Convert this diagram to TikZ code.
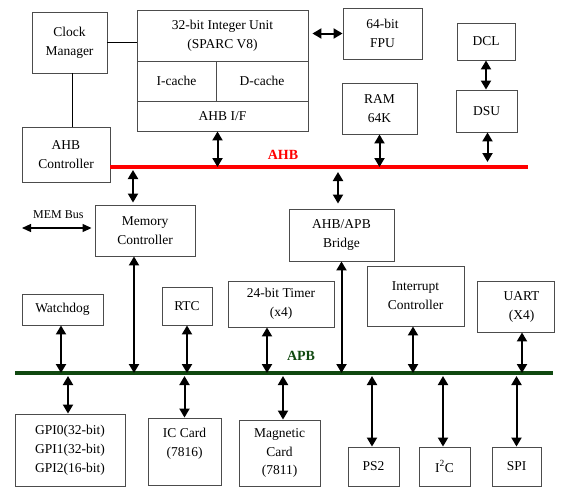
\documentclass[tikz,border=0pt]{standalone}
\usepackage{fontspec}
\setmainfont{Liberation Serif}
\usetikzlibrary{arrows.meta,calc}
\definecolor{apbgreen}{RGB}{16,72,16}
\newcommand{\blkfont}{\fontsize{13.5}{19}\selectfont}
\begin{document}
\begin{tikzpicture}[x=1pt,y=-1pt,
  blk/.style={draw=black!70,line width=0.9pt,inner sep=0pt,align=center,font=\blkfont},
  dbl/.style={{Triangle[width=10pt,length=9pt]}-{Triangle[width=10pt,length=9pt]},line width=2pt},
  bus/.style={line width=3.5pt}]
\useasboundingbox (0,0) rectangle (570,499);
% Nodo Clock Manager e processore
\draw(69.5,42.5)node[blk,minimum width=75pt,minimum height=61pt](clk){Clock\\Manager}
     (222.5,35.5)node[blk,minimum width=171pt,minimum height=51pt](iu){32-bit Integer Unit\\(SPARC V8)}
     (176.5,81)node[blk,minimum width=79pt,minimum height=40pt](icache){I-cache}
     (262,81)node[blk,minimum width=92pt,minimum height=40pt](dcache){D-cache}
     (222.5,116)node[blk,minimum width=171pt,minimum height=30pt](ahbif){AHB I/F}
     % Nodo FPU
     (382.5,33.5)node[blk,minimum width=79pt,minimum height=51pt](fpu){64-bit\\FPU}
     % Nodi debug
     (486,41.5)node[blk,minimum width=58pt,minimum height=37pt](dcl){DCL}
     (486.5,111)node[blk,minimum width=61pt,minimum height=42pt](dsu){DSU}
     % Nodo RAM
     (379.5,108.5)node[blk,minimum width=75pt,minimum height=51pt](ram){RAM\\64K}
     % Nodo AHB Controller
     (66,154.5)node[blk,minimum width=88pt,minimum height=55pt](ahbctl){AHB\\Controller};

% Nodi tra AHB e APB
\draw(145,230.5)node[blk,minimum width=100pt,minimum height=51pt](mem){Memory\\Controller}
     (341.5,235)node[blk,minimum width=105pt,minimum height=52pt](bridge){AHB/APB\hspace{10pt}\\Bridge\hspace{8pt}}
     (62.5,309.5)node[blk,minimum width=81pt,minimum height=31pt](wdog){Watchdog}
     (187,306)node[blk,minimum width=50pt,minimum height=38pt](rtc){RTC}
     (281,304)node[blk,minimum width=106pt,minimum height=46pt](timer){24-bit Timer\\(x4)}
     (415.5,296)node[blk,minimum width=97pt,minimum height=60pt](irq){Interrupt\\Controller}
     (515.5,306.5)node[blk,minimum width=77pt,minimum height=51pt](uart){\hspace{12pt}UART\\\hspace{12pt}(X4)};

% Nodi sotto APB
\draw(70,450)node[blk,minimum width=110pt,minimum height=72pt](gpi){GPI0(32-bit)\\GPI1(32-bit)\\GPI2(16-bit)}
     (184.5,451.5)node[blk,minimum width=73pt,minimum height=67pt](iccard){IC Card\\(7816)\\\mbox{}}
     (279.5,453)node[blk,minimum width=81pt,minimum height=66pt,font=\fontsize{13.5}{18.5}\selectfont](magcard){Magnetic\\Card\\(7811)}
     (373.5,466.5)node[blk,minimum width=51pt,minimum height=39pt](ps2){PS2}
     (444.5,466.5)node[blk,minimum width=51pt,minimum height=39pt](iic){I\textsuperscript{2}C}
     (516.5,466.5)node[blk,minimum width=49pt,minimum height=39pt](spi){SPI};

% Bus AHB e APB
\coordinate(ahbw) at (110,167);
\coordinate(ahbe) at (528,167);
\coordinate(apbw) at (15,373);
\coordinate(apbe) at (553,373);
\coordinate(membus) at (22,228);
\draw[bus,red](ahbw)--(ahbe);
\draw[bus,apbgreen](apbw)--(apbe);
\node[text=red,font=\fontsize{14}{16}\selectfont\bfseries](ahblabel) at (283,155){AHB};
\node[text=apbgreen,font=\fontsize{14}{16}\selectfont\bfseries](apblabel) at (301,356){APB};

% Linee del Clock Manager
\draw[line width=0.9pt](clk.east)--(clk.east -| iu.west);
\draw[line width=0.9pt]([xshift=3pt]clk.south)--([xshift=3pt]clk.south |- ahbctl.north);

% Frecce sopra AHB
\draw[dbl,shorten <=4pt](iu.east |- fpu)--(fpu.west);
\draw[dbl]([xshift=-5pt]ahbif.south)--([xshift=-5pt]ahbif.south |- ahbw);
\draw[dbl](ram.south)--(ram.south |- ahbw);
\draw[dbl](dcl.south)--(dcl.south |- dsu.north);
\draw[dbl,shorten >=5pt]([xshift=1pt]dsu.south)--([xshift=1pt]dsu.south |- ahbw);

% Frecce tra AHB e APB
\draw[dbl,shorten <=3pt,shorten >=2pt]([xshift=-12pt]mem.north |- ahbw)--([xshift=-12pt]mem.north);
\draw[dbl,shorten <=5pt,shorten >=5pt]([xshift=-3.5pt]bridge.north |- ahbw)--([xshift=-3.5pt]bridge.north);
\draw[{Triangle[width=8pt,length=9pt]}-{Triangle[width=8pt,length=9pt]},line width=1.2pt,shorten >=3pt](membus)--(membus -| mem.west)
     node[midway,above=5pt,font=\fontsize{12}{14}\selectfont](membuslabel){MEM Bus};
\draw[dbl]([xshift=-11pt]mem.south)--([xshift=-11pt]mem.south |- apbw);
\draw[dbl]([xshift=-1.5pt]wdog.south)--([xshift=-1.5pt]wdog.south |- apbw);
\draw[dbl](rtc.south)--(rtc.south |- apbw);
\draw[dbl]([xshift=-14pt]timer.south)--([xshift=-14pt]timer.south |- apbw);
\draw[dbl](bridge.south)--(bridge.south |- apbw);
\draw[dbl]([xshift=-2.5pt]irq.south)--([xshift=-2.5pt]irq.south |- apbw);
\draw[dbl]([xshift=6.5pt]uart.south)--([xshift=6.5pt]uart.south |- apbw);

% Frecce sotto APB
\draw[dbl,shorten <=3pt]([xshift=-2pt]gpi.north |- apbw)--([xshift=-2pt]gpi.north);
\draw[dbl,shorten <=3pt](iccard.north |- apbw)--(iccard.north);
\draw[dbl,shorten <=3pt]([xshift=3.5pt]magcard.north |- apbw)--([xshift=3.5pt]magcard.north);
\draw[dbl,shorten <=3pt]([xshift=-1.5pt]ps2.north |- apbw)--([xshift=-1.5pt]ps2.north);
\draw[dbl,shorten <=3pt]([xshift=-1.5pt]iic.north |- apbw)--([xshift=-1.5pt]iic.north);
\draw[dbl,shorten <=3pt](spi.north |- apbw)--(spi.north);
\end{tikzpicture}
\end{document}
